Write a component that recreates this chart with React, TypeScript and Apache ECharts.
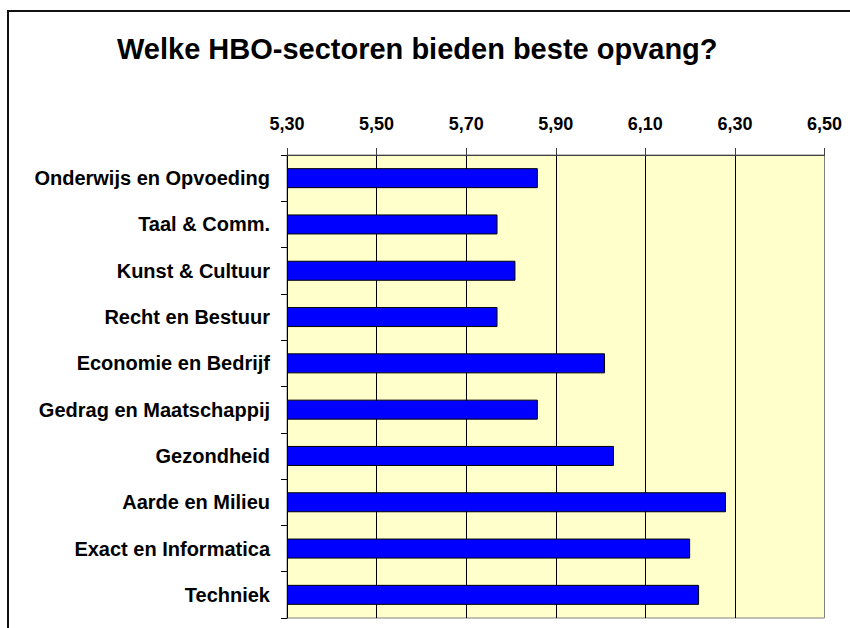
import React, { useEffect, useRef } from "react";
import * as echarts from "echarts";

const titleText = "Welke HBO-sectoren bieden beste opvang?";
const categories = [
  "Onderwijs en Opvoeding",
  "Taal & Comm.",
  "Kunst & Cultuur",
  "Recht en Bestuur",
  "Economie en Bedrijf",
  "Gedrag en Maatschappij",
  "Gezondheid",
  "Aarde en Milieu",
  "Exact en Informatica",
  "Techniek",
];
const scores = [5.86, 5.77, 5.81, 5.77, 6.01, 5.86, 6.03, 6.28, 6.2, 6.22];
const axisMin = 5.3;
const axisMax = 6.5;
const axisStep = 0.2;

const FONT = '"Liberation Sans", Arial, sans-serif';

export default function App() {
  const ref = useRef<HTMLDivElement>(null);
  useEffect(() => {
    if (!ref.current) return;
    const chart = echarts.init(ref.current, undefined, { renderer: "svg" });
    const offsetData = scores.map((v) => +(v - axisMin).toFixed(4));
    chart.setOption({
      animation: false,
      backgroundColor: "#ffffff",
      title: {
        text: titleText,
        left: 112,
        top: 29,
        textStyle: {
          fontFamily: FONT,
          fontWeight: "bold",
          fontSize: 29,
          color: "#000",
        },
      },
      graphic: [
        {
          type: "rect",
          shape: { x: 8, y: 11, width: 1000, height: 1000 },
          style: { fill: "none", stroke: "#111", lineWidth: 2 },
          silent: true,
          z: 100,
        },
      ],
      grid: {
        left: 287,
        top: 155,
        right: 25.5,
        bottom: 10,
        show: true,
        backgroundColor: "#FFFFCC",
        borderColor: "#808080",
        borderWidth: 1,
      },
      xAxis: {
        type: "value",
        position: "top",
        min: 0,
        max: +(axisMax - axisMin).toFixed(4),
        interval: axisStep,
        axisLine: { show: true, lineStyle: { color: "#404040", width: 1 } },
        axisTick: { show: true, length: 7, lineStyle: { color: "#404040" } },
        axisLabel: {
          margin: 22,
          fontFamily: FONT,
          fontWeight: "bold",
          fontSize: 18,
          color: "#000",
          formatter: (v: number) => (axisMin + v).toFixed(2).replace(".", ","),
        },
        splitLine: {
          show: true,
          showMinLine: false,
          showMaxLine: false,
          lineStyle: { color: "#000", width: 1 },
        },
      },
      yAxis: {
        type: "category",
        inverse: true,
        data: categories,
        axisLine: { show: true, lineStyle: { color: "#000", width: 1 } },
        axisTick: { show: true, length: 6, lineStyle: { color: "#000" } },
        axisLabel: {
          margin: 17,
          fontFamily: FONT,
          fontWeight: "bold",
          fontSize: 20,
          color: "#000",
        },
      },
      series: [
        {
          type: "bar",
          data: offsetData,
          barWidth: 20,
          itemStyle: {
            color: "#0000FF",
            borderColor: "#000",
            borderWidth: 1,
          },
        },
      ],
    });
    return () => chart.dispose();
  }, []);
  return (
    <div
      ref={ref}
      style={{ position: "absolute", left: 0, top: 0, width: 850, height: 628 }}
    />
  );
}
